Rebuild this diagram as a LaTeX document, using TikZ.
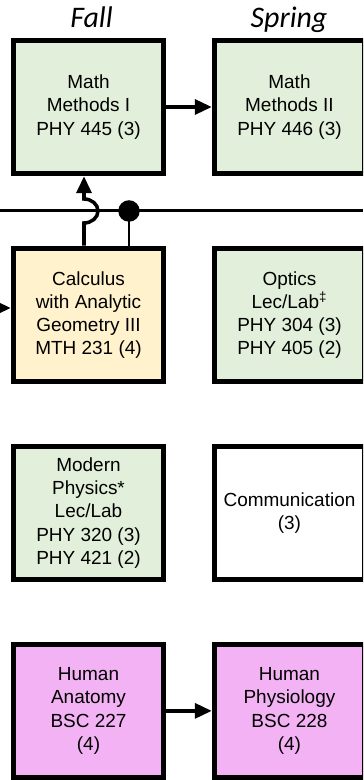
\documentclass[tikz,border=0pt]{standalone}
\usepackage{fontspec}
\setmainfont{Liberation Sans}
\newfontfamily\termfont{Carlito}
\usepackage{tikz}
\usetikzlibrary{shapes,arrows.meta,positioning,calc}
\definecolor{phygreen}{RGB}{226,239,218}
\definecolor{mathyellow}{RGB}{255,242,204}
\definecolor{biopink}{RGB}{243,178,243}
\tikzstyle{course} = [rectangle, draw, line width=3.1pt, fill=phygreen, inner sep=0pt, minimum width=3cm, minimum height=2.66cm, align=center, execute at begin node=\fontsize{10.8}{13.2}\selectfont]
\tikzstyle{term} = [inner sep=0pt, anchor=base, execute at begin node=\termfont\itshape\fontsize{17}{20}\selectfont]
\tikzstyle{link} = [draw, line width=2pt, -{Triangle[length=0.34cm,width=0.3cm]}]
\tikzstyle{rail} = [draw, line width=1.7pt]

\begin{document}
\begin{tikzpicture}[x=0.02cm, y=0.02cm]
	\useasboundingbox (0,0) rectangle (363,780);
	\clip (0,0) rectangle (363,780);
	% Fall column
	\node [course] (MathMethI) at (88.5,673) {Math\\Methods I\\PHY 445 (3)};
	\node [course, fill=mathyellow, below of=MathMethI, node distance=4.16cm] (Calculus) {Calculus\\with Analytic\\Geometry III\\MTH 231 (4)};
	\node [course, below of=Calculus, node distance=3.96cm] (Modern) {Modern\\Physics*\\Lec/Lab\\PHY 320 (3)\\PHY 421 (2)};
	\node [course, fill=biopink, below of=Modern, node distance=3.96cm] (Anatomy) {Human\\Anatomy\\BSC 227\\(4)};
	
	% Spring column
	\node [course, right of=MathMethI, node distance=4.02cm] (MathMethII) {Math\\Methods II\\PHY 446 (3)};
	\node [course, right of=Calculus, node distance=4.02cm] (Optics) {Optics\\Lec/Lab\textsuperscript{‡}\\PHY 304 (3)\\PHY 405 (2)};
	\node [course, fill=white, right of=Modern, node distance=4.02cm] (Communication) {Communication\\(3)};
	\node [course, fill=biopink, right of=Anatomy, node distance=4.02cm] (Physiology) {Human\\Physiology\\BSC 228\\(4)};
	
	% Terms
	\node [term] (Fall) at (91.5,752) {Fall};
	\node [term] (Spring) at (289,752) {Spring};
	
	% Free ends
	\coordinate (railL) at (0,569);
	\coordinate (railR) at (363,569);
	\coordinate (junc) at (129,569);
	\coordinate (hop) at (84,557);
	\coordinate (calcIn) at (0,472);
	
	% Paths
	\path [link] (MathMethI.east) -- (MathMethI.east -| MathMethII.west);
	\path [link] (Anatomy.east) -- (Anatomy.east -| Physiology.west);
	\path [link] (calcIn) -- (calcIn -| Calculus.west);
	\path [rail] (railL) -- (railR);
	\path [rail] (junc) -- (junc |- Calculus.north);
	\fill (junc) circle [radius=0.215cm];
	\path [link] (Calculus.north -| hop) -- (hop) arc [start angle=-90, end angle=90, x radius=0.28cm, y radius=0.24cm] -- (MathMethI.south -| hop);
\end{tikzpicture}
\end{document}
